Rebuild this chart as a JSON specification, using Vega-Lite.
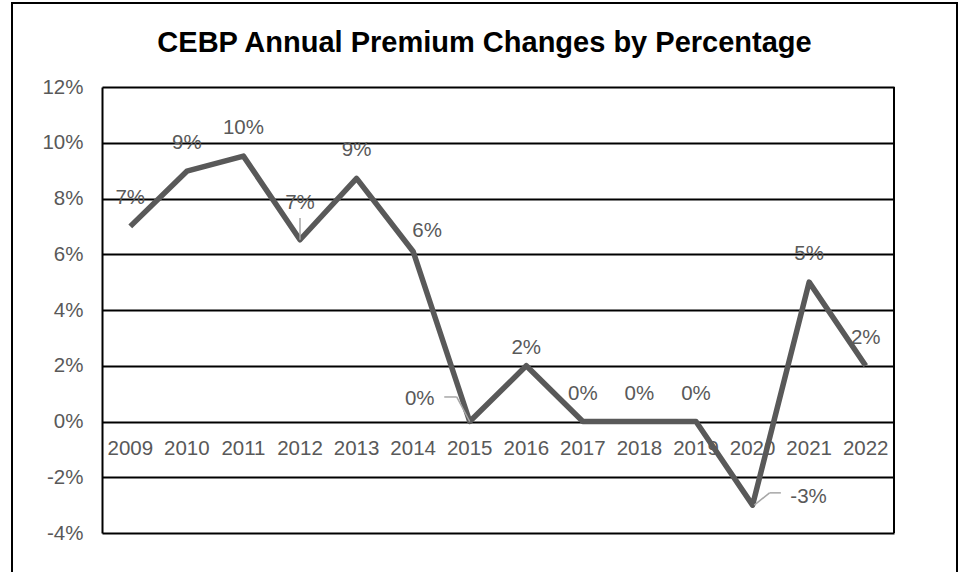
{
  "$schema": "https://vega.github.io/schema/vega-lite/v6.json",
  "autosize": "none",
  "width": 945,
  "height": 575,
  "padding": {"left": 12, "top": 3, "right": 4, "bottom": -6},
  "background": "white",
  "title": {
    "text": "CEBP Annual Premium Changes by Percentage",
    "font": "Liberation Sans",
    "fontSize": 29,
    "fontWeight": "bold",
    "color": "black",
    "anchor": "middle",
    "frame": "group",
    "offset": -55
  },
  "config": {
    "view": {"stroke": "black", "strokeWidth": 2},
    "locale": {
      "number": {"decimal": ".", "thousands": ",", "grouping": [3], "currency": ["$", ""], "minus": "-"}
    },
    "text": {"font": "Liberation Sans", "fontSize": 20.5, "color": "#595959"}
  },
  "data": {
    "values": [
      {"year": "2009", "value": 0.07},
      {"year": "2010", "value": 0.0898},
      {"year": "2011", "value": 0.0952},
      {"year": "2012", "value": 0.0652},
      {"year": "2013", "value": 0.0872},
      {"year": "2014", "value": 0.061},
      {"year": "2015", "value": 0},
      {"year": "2016", "value": 0.02},
      {"year": "2017", "value": 0},
      {"year": "2018", "value": 0},
      {"year": "2019", "value": 0},
      {"year": "2020", "value": -0.03},
      {"year": "2021", "value": 0.05},
      {"year": "2022", "value": 0.02}
    ]
  },
  "encoding": {
    "x": {
      "field": "year",
      "type": "ordinal",
      "axis": null,
      "scale": {"type": "band", "range": [90, 882], "paddingInner": 0, "paddingOuter": 0}
    }
  },
  "layer": [
    {
      "mark": {"type": "text", "baseline": "alphabetic", "dy": 33},
      "encoding": {
        "y": {
          "datum": 0,
          "type": "quantitative",
          "scale": {"domain": [-0.04, 0.12], "range": [530, 84], "nice": false, "zero": false},
          "axis": {
            "offset": -90,
            "values": [-0.04, -0.02, 0, 0.02, 0.04, 0.06, 0.08, 0.1, 0.12],
            "format": ".0%",
            "title": null,
            "grid": true,
            "gridColor": "black",
            "gridWidth": 2,
            "gridOpacity": 1,
            "domain": true,
            "domainColor": "black",
            "domainWidth": 2,
            "ticks": false,
            "labelPadding": 19,
            "labelFont": "Liberation Sans",
            "labelFontSize": 20.5,
            "labelColor": "#595959"
          }
        },
        "text": {"field": "year", "type": "nominal"}
      }
    },
    {
      "mark": {"type": "rule", "color": "black", "strokeWidth": 2},
      "transform": [{"filter": "datum.year == '2022'"}],
      "encoding": {
        "x": {"field": "year", "type": "ordinal", "bandPosition": 1},
        "y": {"datum": -0.04, "type": "quantitative"},
        "y2": {"datum": 0.12}
      }
    },
    {
      "mark": {"type": "line", "color": "#595959", "strokeWidth": 5.5, "strokeJoin": "round"},
      "encoding": {
        "y": {"field": "value", "type": "quantitative"}
      }
    },
    {
      "mark": {"type": "rule", "color": "#a6a6a6", "strokeWidth": 1.5},
      "transform": [{"filter": "datum.year == '2012'"}],
      "encoding": {
        "y": {"field": "value", "type": "quantitative"},
        "y2": {"datum": 0.073}
      }
    },
    {
      "mark": {"type": "rule", "color": "#a6a6a6", "strokeWidth": 1.5},
      "transform": [{"filter": "datum.year == '2015'"}],
      "encoding": {
        "x": {"field": "year", "type": "ordinal", "bandPosition": 0.5},
        "x2": {"field": "year", "bandPosition": 0.27},
        "y": {"field": "value", "type": "quantitative"},
        "y2": {"datum": 0.0088}
      }
    },
    {
      "mark": {"type": "rule", "color": "#a6a6a6", "strokeWidth": 1.5},
      "transform": [{"filter": "datum.year == '2015'"}],
      "encoding": {
        "x": {"field": "year", "type": "ordinal", "bandPosition": 0.27},
        "x2": {"field": "year", "bandPosition": 0.05},
        "y": {"datum": 0.0088, "type": "quantitative"}
      }
    },
    {
      "mark": {"type": "rule", "color": "#a6a6a6", "strokeWidth": 1.5},
      "transform": [{"filter": "datum.year == '2020'"}],
      "encoding": {
        "x": {"field": "year", "type": "ordinal", "bandPosition": 0.53},
        "x2": {"field": "year", "bandPosition": 0.8},
        "y": {"field": "value", "type": "quantitative"},
        "y2": {"datum": -0.0256}
      }
    },
    {
      "mark": {"type": "rule", "color": "#a6a6a6", "strokeWidth": 1.5},
      "transform": [{"filter": "datum.year == '2020'"}],
      "encoding": {
        "x": {"field": "year", "type": "ordinal", "bandPosition": 0.8},
        "x2": {"field": "year", "bandPosition": 1.0},
        "y": {"datum": -0.0256, "type": "quantitative"}
      }
    },
    {
      "mark": {"type": "text", "baseline": "alphabetic", "dy": -22},
      "transform": [{"filter": "indexof(['2012','2014','2015','2016','2020'], datum.year) < 0"}],
      "encoding": {
        "y": {"field": "value", "type": "quantitative"},
        "text": {"field": "value", "type": "quantitative", "format": ".0%"}
      }
    },
    {
      "mark": {"type": "text", "baseline": "alphabetic", "dy": -31},
      "transform": [{"filter": "datum.year == '2012'"}],
      "encoding": {
        "y": {"field": "value", "type": "quantitative"},
        "text": {"field": "value", "type": "quantitative", "format": ".0%"}
      }
    },
    {
      "mark": {"type": "text", "baseline": "alphabetic", "dx": 14, "dy": -14},
      "transform": [{"filter": "datum.year == '2014'"}],
      "encoding": {
        "y": {"field": "value", "type": "quantitative"},
        "text": {"field": "value", "type": "quantitative", "format": ".0%"}
      }
    },
    {
      "mark": {"type": "text", "baseline": "alphabetic", "dx": -50, "dy": -17},
      "transform": [{"filter": "datum.year == '2015'"}],
      "encoding": {
        "y": {"field": "value", "type": "quantitative"},
        "text": {"field": "value", "type": "quantitative", "format": ".0%"}
      }
    },
    {
      "mark": {"type": "text", "baseline": "alphabetic", "dy": -12},
      "transform": [{"filter": "datum.year == '2016'"}],
      "encoding": {
        "y": {"field": "value", "type": "quantitative"},
        "text": {"field": "value", "type": "quantitative", "format": ".0%"}
      }
    },
    {
      "mark": {"type": "text", "baseline": "alphabetic", "dx": 56, "dy": -2},
      "transform": [{"filter": "datum.year == '2020'"}],
      "encoding": {
        "y": {"field": "value", "type": "quantitative"},
        "text": {"field": "value", "type": "quantitative", "format": ".0%"}
      }
    }
  ]
}
